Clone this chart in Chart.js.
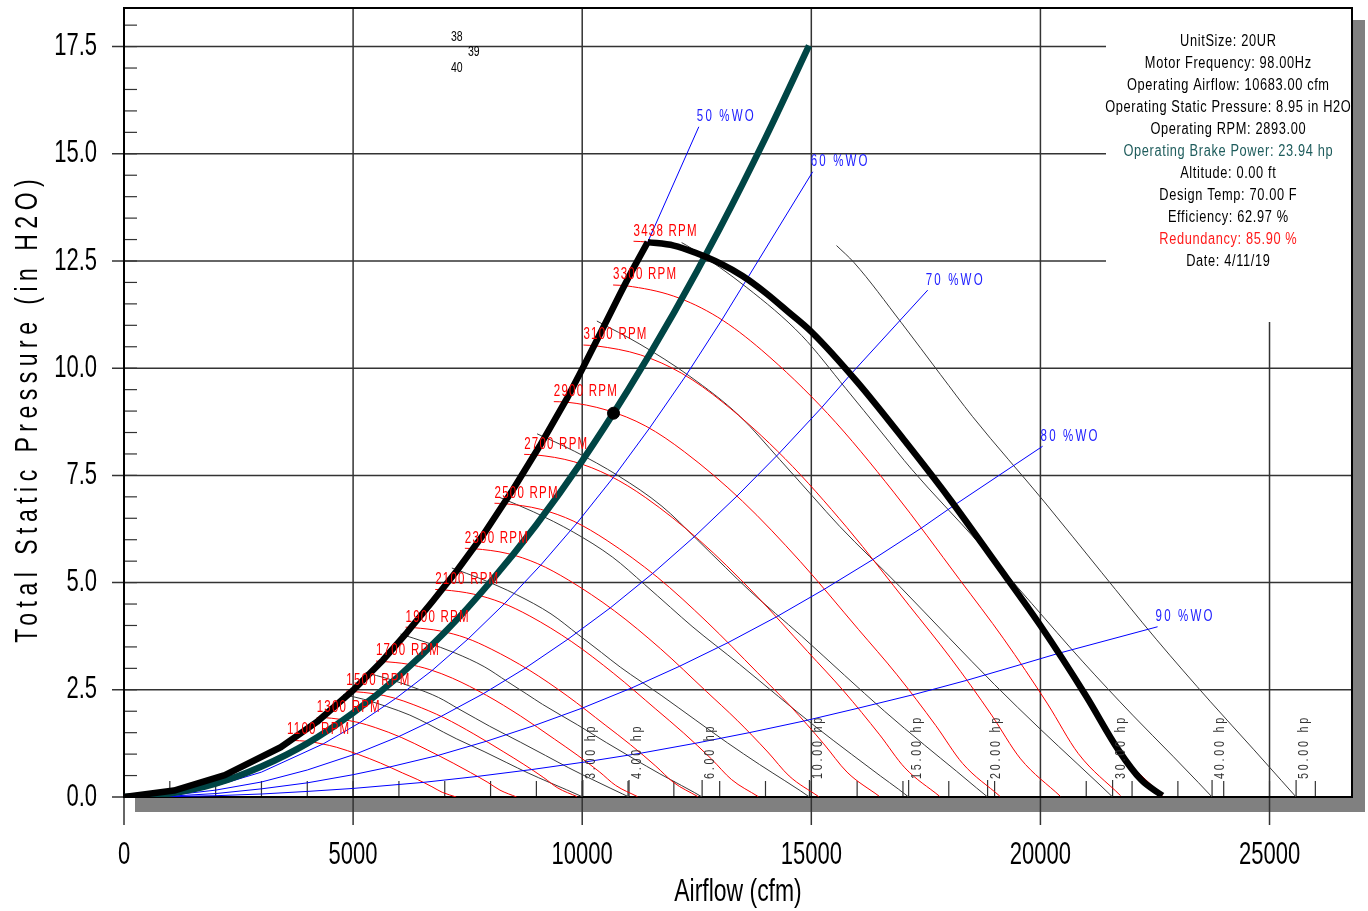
<!DOCTYPE html>
<html>
<head>
<meta charset="utf-8">
<title>Fan curve 20UR</title>
<script src="https://cdn.jsdelivr.net/npm/chart.js@4.4.1/dist/chart.umd.min.js"></script>
<style>
  html, body { margin: 0; padding: 0; background: #fff; }
  #wrap { width: 1368px; height: 911px; position: relative; }
</style>
</head>
<body>
<div id="wrap"><canvas id="fan"></canvas></div>
<script>
'use strict'

// ── Data (cfm, in H2O) ─────────────────────────────────────────────────────
const xTicks = [0, 5000, 10000, 15000, 20000, 25000]
const yTicks = [0, 2.5, 5, 7.5, 10, 12.5, 15, 17.5]

// thick black envelope: surge side, then max RPM curve
const envelopeSurge = [[0,0],[1090,0.15],[2200,0.51],[3420,1.16],[4210,1.75],[5000,2.49],[5650,3.19],[6170,3.83],[6740,4.57],[7260,5.27],[7830,6.10],[8490,7.17],[9075,8.19],[9665,9.29],[10010,10.00],[10380,10.78],[10820,11.72],[11100,12.30],[11430,12.94]]
const envelopeMax = [[11430,12.94],[12000,12.86],[12500,12.68],[13000,12.45],[13500,12.15],[14000,11.76],[14500,11.31],[15000,10.85],[16000,9.68],[17000,8.36],[18000,6.98],[19000,5.50],[20000,4.00],[21000,2.35],[21700,1.10],[22200,0.40],[22660,0.03]]

// system curve through the operating point
const systemCurve = [[0,0],[1000,0.08],[2000,0.31],[3000,0.71],[4000,1.25],[5000,1.96],[6000,2.82],[7000,3.84],[8000,5.02],[9000,6.35],[10000,7.84],[11000,9.49],[12000,11.29],[13000,13.25],[14000,15.37],[14950,17.52]]
const operatingPoint = [10683, 8.95]

// RPM curves
const rpmLabels = ['1100 RPM','1300 RPM','1500 RPM','1700 RPM','1900 RPM','2100 RPM','2300 RPM','2500 RPM','2700 RPM','2900 RPM','3100 RPM','3300 RPM','3438 RPM']
const rpm1100 = [[3558,1.33],[3657,1.32],[4000,1.30],[4320,1.24],[4640,1.16],[5120,0.99],[5600,0.79],[6080,0.56],[6400,0.41],[6720,0.24],[6944,0.11],[7251,0.0]]
const rpm1300 = [[4205,1.85],[4322,1.85],[4727,1.81],[5105,1.74],[5483,1.62],[6050,1.39],[6617,1.10],[7184,0.79],[7563,0.57],[7941,0.34],[8205,0.16],[8569,0.0]]
const rpm1500 = [[4852,2.47],[4987,2.46],[5454,2.41],[5890,2.31],[6326,2.15],[6981,1.85],[7635,1.47],[8290,1.05],[8726,0.76],[9162,0.45],[9468,0.21],[9887,0.01]]
const rpm1700 = [[5499,3.17],[5652,3.16],[6181,3.10],[6675,2.97],[7170,2.77],[7912,2.37],[8653,1.89],[9395,1.35],[9889,0.98],[10384,0.58],[10730,0.27],[11205,0.01]]
const rpm1900 = [[6145,3.96],[6317,3.95],[6908,3.87],[7461,3.71],[8013,3.45],[8842,2.96],[9671,2.36],[10500,1.68],[11053,1.22],[11606,0.72],[11993,0.34],[12523,0.01]]
const rpm2100 = [[6792,4.84],[6982,4.83],[7635,4.73],[8246,4.53],[8857,4.22],[9773,3.62],[10689,2.88],[11606,2.05],[12216,1.49],[12827,0.88],[13255,0.41],[13841,0.01]]
const rpm2300 = [[7439,5.80],[7647,5.79],[8362,5.68],[9031,5.44],[9700,5.06],[10704,4.34],[11707,3.46],[12711,2.46],[13380,1.79],[14049,1.05],[14517,0.49],[15159,0.01]]
const rpm2500 = [[8086,6.85],[8312,6.84],[9090,6.71],[9817,6.43],[10544,5.98],[11635,5.13],[12725,4.08],[13816,2.91],[14543,2.12],[15271,1.24],[15780,0.58],[16478,0.02]]
const rpm2700 = [[8733,7.99],[8976,7.98],[9817,7.82],[10602,7.49],[11387,6.98],[12565,5.98],[13743,4.76],[14921,3.39],[15707,2.47],[16492,1.45],[17042,0.68],[17796,0.02]]
const rpm2900 = [[9380,9.22],[9641,9.21],[10544,9.02],[11387,8.65],[12231,8.05],[13496,6.90],[14761,5.49],[16027,3.91],[16870,2.85],[17714,1.67],[18304,0.78],[19114,0.02]]
const rpm3100 = [[10027,10.54],[10306,10.52],[11271,10.31],[12173,9.88],[13075,9.20],[14427,7.89],[15780,6.28],[17132,4.47],[18034,3.25],[18935,1.91],[19567,0.89],[20432,0.02]]
const rpm3300 = [[10674,11.94],[10971,11.92],[11998,11.68],[12958,11.19],[13918,10.42],[15358,8.94],[16798,7.11],[18237,5.07],[19197,3.69],[20157,2.17],[20829,1.01],[21750,0.03]]
const rpm3438 = [[11120,12.96],[11430,12.94],[12500,12.68],[13500,12.15],[14500,11.31],[16000,9.70],[17500,7.72],[19000,5.50],[20000,4.00],[21000,2.35],[21700,1.10],[22660,0.03]]

// brake horsepower curves
const hpLabels = ['3.00 hp','4.00 hp','6.00 hp','10.00 hp','15.00 hp','20.00 hp','30.00 hp','40.00 hp','50.00 hp']
const hp3 = [[4790,2.39],[5226,2.28],[5732,2.11],[6238,1.91],[6642,1.70],[6976,1.51],[7250,1.36],[7858,1.06],[8355,0.80],[8819,0.56],[9283,0.34],[9655,0.17],[9887,0.06],[10014,0]]
const hp4 = [[5272,2.90],[5752,2.76],[6309,2.56],[6866,2.32],[7311,2.05],[7678,1.83],[7980,1.65],[8649,1.28],[9196,0.97],[9707,0.68],[10217,0.41],[10626,0.20],[10882,0.07],[11022,0]]
const hp6 = [[6035,3.80],[6585,3.61],[7222,3.36],[7860,3.04],[8368,2.69],[8790,2.40],[9135,2.16],[9901,1.68],[10526,1.27],[11111,0.90],[11696,0.54],[12164,0.27],[12456,0.10],[12617,0]]
const hp10 = [[7155,5.34],[7807,5.08],[8563,4.72],[9319,4.27],[9922,3.78],[10421,3.37],[10830,3.03],[11739,2.36],[12480,1.79],[13174,1.26],[13867,0.76],[14422,0.38],[14769,0.14],[14959,0]]
const hp15 = [[8191,6.99],[8937,6.65],[9802,6.18],[10667,5.59],[11358,4.96],[11929,4.42],[12397,3.98],[13438,3.09],[14287,2.34],[15080,1.65],[15874,1.00],[16509,0.49],[16906,0.18],[17124,0]]
const hp20 = [[9015,8.47],[9837,8.06],[10789,7.49],[11741,6.78],[12501,6.01],[13130,5.35],[13645,4.82],[14790,3.75],[15724,2.84],[16598,2.00],[17472,1.21],[18170,0.60],[18607,0.21],[18847,0]]
const hp30 = [[10320,11.10],[11260,10.56],[12350,9.81],[13440,8.88],[14310,7.87],[15030,7.01],[15620,6.31],[16930,4.91],[18000,3.72],[19000,2.62],[20000,1.58],[20800,0.78],[21300,0.28],[21575,0]]
const hp40 = [[12170,12.93],[12393,12.79],[13593,11.88],[14792,10.76],[15750,9.53],[16543,8.49],[17192,7.64],[18634,5.95],[19812,4.51],[20913,3.17],[22013,1.91],[22893,0.95],[23444,0.34],[23746,0]]
const hp50 = [[15550,12.86],[15935,12.46],[16966,11.06],[17820,9.85],[18520,8.87],[20073,6.90],[21341,5.23],[22527,3.68],[23713,2.22],[24661,1.10],[25254,0.39],[25580,0]]

// percent wide open lines and their label leaders
const woLabels = ['50 %WO','60 %WO','70 %WO','80 %WO','90 %WO']
const wo60 = [[0,0],[1000,0.07],[2000,0.26],[3000,0.58],[4350,1.24],[5141,1.73],[5932,2.30],[6723,2.95],[7514,3.69],[8305,4.51],[9096,5.41],[9887,6.39],[10677,7.45],[11468,8.60],[12259,9.82],[13050,11.13],[13596,12.08]]
const wo70 = [[0,0],[1000,0.04],[2000,0.16],[3000,0.35],[4000,0.63],[5075,1.01],[5998,1.41],[6921,1.88],[7843,2.41],[8766,3.01],[9689,3.68],[10612,4.41],[11534,5.21],[12457,6.08],[13380,7.02],[14303,8.02],[15225,9.08],[15862,9.86]]
const wo80 = [[0,0],[1000,0.02],[2000,0.08],[3000,0.19],[4000,0.33],[5000,0.52],[5800,0.70],[6855,0.97],[7909,1.30],[8964,1.67],[10018,2.08],[11073,2.54],[12127,3.05],[13182,3.60],[14237,4.20],[15291,4.85],[16346,5.54],[17400,6.27],[18128,6.81]]
const wo90 = [[0,0],[1000,0.01],[2000,0.03],[3000,0.07],[4000,0.13],[5000,0.20],[6525,0.34],[7712,0.48],[8898,0.64],[10084,0.82],[11271,1.02],[12457,1.25],[13643,1.50],[14830,1.77],[16016,2.07],[17203,2.38],[18389,2.72],[19575,3.09],[20394,3.35]]
const wo50Leader = [[11430,12.94],[12545,15.63]]
const wo60Leader = [[13596,12.08],[15030,14.58]]
const wo70Leader = [[15862,9.86],[17540,11.82]]
const wo80Leader = [[18128,6.81],[20048,8.18]]
const wo90Leader = [[20394,3.35],[22557,3.97]]

const infoLines = [
  'UnitSize: 20UR',
  'Motor Frequency: 98.00Hz',
  'Operating Airflow: 10683.00 cfm',
  'Operating Static Pressure: 8.95 in H2O',
  'Operating RPM: 2893.00',
  'Operating Brake Power: 23.94 hp',
  'Altitude: 0.00 ft',
  'Design Temp: 70.00 F',
  'Efficiency: 62.97 %',
  'Redundancy: 85.90 %',
  'Date: 4/11/19'
]

// ── Styling ────────────────────────────────────────────────────────────────
const FONT = '"Liberation Sans", Arial, sans-serif'
const rpmCurves = [rpm1100, rpm1300, rpm1500, rpm1700, rpm1900, rpm2100, rpm2300, rpm2500, rpm2700, rpm2900, rpm3100, rpm3300, rpm3438]
const hpCurves = [hp3, hp4, hp6, hp10, hp15, hp20, hp30, hp40, hp50]
const woCurves = [wo60, wo70, wo80, wo90]
const woLeaders = [wo50Leader, wo60Leader, wo70Leader, wo80Leader, wo90Leader]
const notes = [['38', 7264, 17.71], ['39', 7635, 17.36], ['40', 7264, 16.99]]
const infoColors = ['#000', '#000', '#000', '#000', '#000', '#1e5c5c', '#000', '#000', '#000', '#ff1a1a', '#000']

function curve(data, color, width, order, smooth) {
  return {
    data, borderColor: color, borderWidth: width, order,
    showLine: true, fill: false, pointRadius: 0,
    borderJoinStyle: 'round',
    cubicInterpolationMode: smooth ? 'monotone' : 'default',
    tension: 0
  }
}

const datasets = [
  { data: [operatingPoint], pointRadius: 6, pointBackgroundColor: '#000', pointBorderColor: '#000', showLine: false, order: -1 },
  curve(envelopeSurge, '#000', 6.5, 0, false),
  curve(envelopeMax, '#000', 6.5, 0, true),
  curve(systemCurve, '#004545', 6.5, 1, true),
  ...woCurves.map(d => curve(d, '#0000ff', 1, 3, false)),
  ...woLeaders.map(d => curve(d, '#0000ff', 1, 3, false)),
  ...rpmCurves.map(d => curve(d, '#ff0000', 1, 4, true)),
  ...hpCurves.map(d => curve(d, '#3a3a3a', 1, 5, true))
]

// narrow, spaced text like the original plot font
function label(ctx, text, x, y, o) {
  ctx.save()
  ctx.font = o.size + 'px ' + FONT
  ctx.letterSpacing = (o.spacing || 0) + 'px'
  ctx.fillStyle = o.color || '#000'
  ctx.textBaseline = 'middle'
  ctx.textAlign = 'left'
  ctx.translate(x, y)
  if (o.rotate) ctx.rotate(o.rotate)
  ctx.scale(o.sx || 1, 1)
  const w = ctx.measureText(text).width - (o.spacing || 0)
  const off = o.align === 'center' ? -w / 2 : o.align === 'right' ? -w : 0
  ctx.fillText(text, off, 0)
  ctx.restore()
}

// ── Frame, grid and annotation plugin ──────────────────────────────────────
const fanFrame = {
  id: 'fanFrame',
  beforeDraw(chart) {
    const { ctx, chartArea: a } = chart
    ctx.save()
    ctx.fillStyle = '#fff'
    ctx.fillRect(0, 0, chart.width, chart.height)
    ctx.fillStyle = '#808080'   // drop shadow
    ctx.fillRect(a.left + 11, a.top + 12, a.width + 2, a.height + 3)
    ctx.fillStyle = '#fff'
    ctx.fillRect(a.left, a.top, a.width, a.height)
    ctx.restore()
  },
  beforeDatasetsDraw(chart) {
    const { ctx, chartArea: a, scales: { x, y } } = chart
    const boxLeft = a.right - 246, boxBottom = a.top + 314
    ctx.save()
    ctx.strokeStyle = '#333'
    ctx.lineWidth = 1.5
    const seg = (x1, y1, x2, y2) => { ctx.beginPath(); ctx.moveTo(x1, y1); ctx.lineTo(x2, y2); ctx.stroke() }
    y.ticks.forEach(t => {
      const py = y.getPixelForValue(t.value)
      seg(a.left - 12, py, py < boxBottom ? boxLeft : a.right, py)
    })
    x.ticks.forEach(t => {
      const px = x.getPixelForValue(t.value)
      seg(px, px > boxLeft ? boxBottom : a.top, px, a.bottom + 28)
    })
    ctx.lineWidth = 1.2
    for (let v = 1000; v <= 26000; v += 1000) {
      const px = x.getPixelForValue(v)
      seg(px, a.bottom, px, a.bottom - 16)
    }
    for (let v = 0.5; v <= 18; v += 0.5) {
      const py = y.getPixelForValue(v)
      seg(a.left, py, a.left + 13, py)
    }
    hpCurves.forEach(d => {
      const px = x.getPixelForValue(d[d.length - 1][0])
      seg(px, a.bottom, px, a.bottom - 17)
    })
    ctx.strokeStyle = '#000'
    ctx.lineWidth = 2
    ctx.strokeRect(a.left, a.top, a.width, a.height)
    ctx.restore()
  },
  afterDatasetsDraw(chart) {
    const { ctx, chartArea: a, scales: { x, y } } = chart

    // axis tick labels and titles
    x.ticks.forEach(t => label(ctx, String(t.value), x.getPixelForValue(t.value), a.bottom + 58, { size: 31, sx: 0.71, align: 'center' }))
    y.ticks.forEach(t => label(ctx, t.value.toFixed(1), a.left - 27, y.getPixelForValue(t.value), { size: 31, sx: 0.71, align: 'right' }))
    label(ctx, 'Airflow (cfm)', (a.left + a.right) / 2, a.bottom + 95, { size: 31, sx: 0.74, align: 'center' })
    label(ctx, 'Total Static Pressure (in H2O)', 28, 411, { size: 32, sx: 0.72, spacing: 7.6, align: 'center', rotate: -Math.PI / 2 })

    // RPM labels
    rpmCurves.forEach((d, i) => {
      label(ctx, rpmLabels[i], x.getPixelForValue(d[0][0]), y.getPixelForValue(d[0][1]) - 10, { size: 16, sx: 0.72, spacing: 1.7, color: '#ff0000' })
    })

    // %WO labels
    woLeaders.forEach((d, i) => {
      const end = d[d.length - 1]
      label(ctx, woLabels[i], x.getPixelForValue(end[0]) - 2, y.getPixelForValue(end[1]) - 10, { size: 16, sx: 0.72, spacing: 3, color: '#2020ff' })
    })

    // hp labels, rotated
    hpCurves.forEach((d, i) => {
      const px = x.getPixelForValue(d[d.length - 1][0]) + 8
      label(ctx, hpLabels[i], px, a.bottom - 18, { size: 15, sx: 0.72, spacing: 3.8, color: '#333', rotate: -Math.PI / 2 })
    })

    // little index numbers
    notes.forEach(([t, vx, vy]) => label(ctx, t, x.getPixelForValue(vx), y.getPixelForValue(vy), { size: 14, sx: 0.75, align: 'center' }))

    // info block
    infoLines.forEach((t, i) => {
      label(ctx, t, a.right - 124, a.top + 34 + i * 22, { size: 16, sx: 0.8, spacing: 0.8, align: 'center', color: infoColors[i] })
    })
  }
}

// ── Chart ──────────────────────────────────────────────────────────────────
new Chart(document.getElementById('fan'), {
  type: 'scatter',
  data: { datasets },
  options: {
    responsive: true,
    maintainAspectRatio: false,
    animation: false,
    events: [],
    layout: { padding: { top: 8, right: 16, left: 0, bottom: 0 } },
    plugins: { legend: { display: false }, tooltip: { enabled: false } },
    scales: {
      x: {
        type: 'linear', min: 0, max: 26800,
        afterFit: s => { s.height = 114; s.paddingLeft = 0; s.paddingRight = 0 },
        afterBuildTicks: s => { s.ticks = xTicks.map(v => ({ value: v })) },
        grid: { display: false, drawTicks: false },
        border: { display: false },
        ticks: { display: false }
      },
      y: {
        type: 'linear', min: 0, max: 18.4,
        afterFit: s => { s.width = 124; s.paddingTop = 0; s.paddingBottom = 0 },
        afterBuildTicks: s => { s.ticks = yTicks.map(v => ({ value: v })) },
        grid: { display: false, drawTicks: false },
        border: { display: false },
        ticks: { display: false }
      }
    }
  },
  plugins: [fanFrame]
})
</script>
</body>
</html>
